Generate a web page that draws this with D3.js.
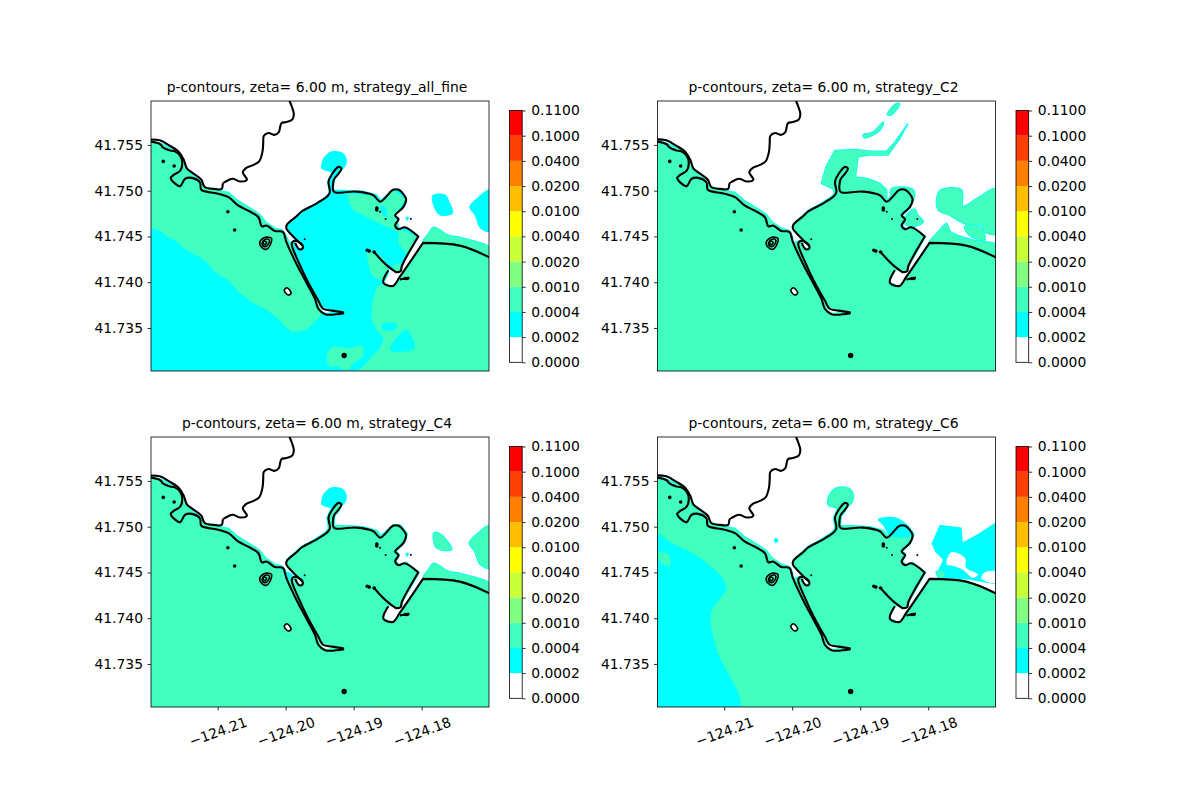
<!DOCTYPE html>
<html>
<head>
<meta charset="utf-8">
<script src="https://cdn.jsdelivr.net/npm/d3@7"></script>
<style>
  html, body { margin: 0; background: #fff; }
  text { font-family: "DejaVu Sans", sans-serif; fill: #000; }
</style>
</head>
<body>
<svg id="fig" width="1200" height="800"></svg>
<script>
// panels
var strategies = ["strategy_all_fine", "strategy_C2", "strategy_C4", "strategy_C6"];
var zeta = "6.00";

// colour bands
var levelLabels = ["0.0000", "0.0002", "0.0004", "0.0010", "0.0020", "0.0040", "0.0100", "0.0200", "0.0400", "0.1000", "0.1100"];
var levelColors = ["#ffffff", "#00ffff", "#40ffbf", "#80ff80", "#c8ff38", "#ffff00", "#ffbf00", "#ff8000", "#ff4000", "#ff0000"];

var lonDomain = [-124.2198, -124.1701];
var latDomain = [41.7303, 41.7598];
var lonTicks = [-124.21, -124.20, -124.19, -124.18];
var latTicks = [41.735, 41.740, 41.745, 41.750, 41.755];

// shoreline contours, lon/lat (a repeated point is a sharp corner)
var riverCoast = [[-124.1996,41.7601],[-124.1991,41.7592],[-124.1988,41.7584],[-124.1990,41.7578],[-124.1999,41.7575],[-124.2006,41.7574],[-124.2008,41.7570],[-124.2010,41.7564],[-124.2017,41.7561],[-124.2025,41.7563],[-124.2032,41.7560],[-124.2033,41.7552],[-124.2034,41.7543],[-124.2039,41.7532],[-124.2048,41.7528],[-124.2058,41.7525],[-124.2063,41.7520],[-124.2057,41.7512],[-124.2067,41.7510],[-124.2078,41.7513],[-124.2088,41.7510],[-124.2092,41.7508],[-124.2094,41.7502],[-124.2106,41.7502],[-124.2119,41.7504],[-124.2124,41.7512],[-124.2136,41.7519],[-124.2145,41.7524],[-124.2150,41.7534],[-124.2158,41.7543],[-124.2170,41.7549],[-124.2185,41.7555],[-124.2202,41.7556]];
var westCoast = [[-124.2202,41.7554],[-124.2185,41.7551],[-124.2180,41.7547],[-124.2170,41.7544],[-124.2163,41.7543],[-124.2155,41.7538],[-124.2152,41.7530],[-124.2155,41.7522],[-124.2165,41.7517],[-124.2169,41.7514],[-124.2163,41.7508],[-124.2155,41.7505],[-124.2148,41.7513],[-124.2138,41.7514],[-124.2126,41.7509],[-124.2124,41.7501],[-124.2101,41.7497],[-124.2084,41.7493],[-124.2070,41.7484],[-124.2052,41.7477],[-124.2040,41.7471],[-124.2035,41.7461],[-124.2028,41.7462],[-124.2016,41.7456],[-124.2004,41.7455],[-124.1999,41.7444],[-124.1984,41.7420],[-124.1969,41.7399],[-124.1957,41.7382],[-124.1952,41.7371],[-124.1942,41.7365],[-124.1914,41.7366]];
var jettyLine = [[-124.1914,41.7367],[-124.1932,41.7369],[-124.1945,41.7371],[-124.1952,41.7380],[-124.1967,41.7400],[-124.1981,41.7422],[-124.1991,41.7441],[-124.1990,41.7444],[-124.1984,41.7445],[-124.1975,41.7440],[-124.1975,41.7437],[-124.1980,41.7436],[-124.1986,41.7443]];
var bayLine = [[-124.1975,41.7440],[-124.1989,41.7450],[-124.1999,41.7459],[-124.1998,41.7463],[-124.1984,41.7472],[-124.1977,41.7477],[-124.1957,41.7485],[-124.1940,41.7493],[-124.1935,41.7498],[-124.1937,41.7510],[-124.1932,41.7518],[-124.1922,41.7526],[-124.1918,41.7524],[-124.1923,41.7518],[-124.1929,41.7512],[-124.1930,41.7500],[-124.1927,41.7498],[-124.1896,41.7499],[-124.1871,41.7495],[-124.1861,41.7488],[-124.1842,41.7501],[-124.1834,41.7501],[-124.1823,41.7491],[-124.1827,41.7482],[-124.1839,41.7473],[-124.1834,41.7469],[-124.1839,41.7462],[-124.1834,41.7458],[-124.1825,41.7460],[-124.1805,41.7450],[-124.1805,41.7450],[-124.1829,41.7418],[-124.1831,41.7412],[-124.1838,41.7411],[-124.1838,41.7411],[-124.1849,41.7417],[-124.1859,41.7424],[-124.1870,41.7433]];
var eastCoast = [[-124.1700,41.7427],[-124.1744,41.7440],[-124.1798,41.7443],[-124.1798,41.7443],[-124.1832,41.7406],[-124.1842,41.7396],[-124.1856,41.7399],[-124.1856,41.7403],[-124.1849,41.7413]];
var eastStub = [[-124.1832,41.7403],[-124.1818,41.7405]];

// closed contours
var ringOuter = [[-124.2038,41.7444],[-124.2030,41.7449],[-124.2021,41.7448],[-124.2022,41.7442],[-124.2028,41.7436],[-124.2035,41.7438]];
var ringMiddle = [[-124.2034,41.7444],[-124.2029,41.7447],[-124.2024,41.7446],[-124.2026,41.7441],[-124.2029,41.7439],[-124.2034,41.7440]];
var ringInner = [[-124.2033,41.7443],[-124.2031,41.7445],[-124.2028,41.7443],[-124.2031,41.7441]];
var ovalIsland = [[-124.2002,41.7391],[-124.1998,41.7394],[-124.1992,41.7388],[-124.1996,41.7386]];
var bigRocks = [[-124.1914,41.7320]];
var smallRocks = [[-124.2180,41.7532],[-124.2164,41.7527],[-124.2085,41.7477],[-124.2075,41.7457],[-124.1866,41.7481],[-124.1866,41.7479],[-124.1880,41.7435],[-124.1877,41.7434],[-124.1870,41.7433],[-124.1821,41.7404],[-124.1824,41.7404]];
var tinyRocks = [[-124.1972,41.7447],[-124.1861,41.7477],[-124.1853,41.7469],[-124.1816,41.7469]];

// white spots inside the contour lines
var jettyTipDry = [[-124.1950,41.7373],[-124.1942,41.7367],[-124.1931,41.7368],[-124.1940,41.7371]];
var jettyHeadDry = [[-124.1984,41.7442],[-124.1977,41.7440],[-124.1978,41.7437],[-124.1982,41.7439]];

// wet area outline
var westShore = [[-124.2202,41.7555],[-124.2185,41.7552],[-124.2170,41.7547],[-124.2160,41.7544],[-124.2153,41.7537],[-124.2147,41.7524],[-124.2136,41.7516],[-124.2124,41.7510],[-124.2120,41.7504],[-124.2097,41.7500],[-124.2084,41.7498],[-124.2070,41.7489],[-124.2052,41.7481],[-124.2038,41.7474],[-124.2030,41.7466],[-124.2016,41.7459],[-124.2006,41.7457],[-124.2001,41.7453]];
var bayShore = [[-124.1998,41.7443],[-124.1989,41.7445],[-124.1977,41.7438],[-124.1975,41.7440],[-124.1989,41.7450],[-124.1999,41.7459],[-124.1998,41.7464],[-124.1984,41.7473],[-124.1977,41.7478],[-124.1957,41.7486],[-124.1941,41.7494],[-124.1937,41.7498],[-124.1939,41.7510],[-124.1934,41.7518],[-124.1923,41.7526],[-124.1917,41.7525],[-124.1922,41.7517],[-124.1928,41.7512],[-124.1929,41.7501],[-124.1910,41.7501],[-124.1886,41.7500],[-124.1866,41.7496],[-124.1860,41.7490],[-124.1842,41.7502],[-124.1832,41.7502],[-124.1821,41.7492],[-124.1826,41.7482],[-124.1838,41.7473],[-124.1833,41.7469],[-124.1838,41.7462],[-124.1833,41.7458],[-124.1823,41.7461],[-124.1804,41.7450],[-124.1828,41.7419],[-124.1831,41.7413],[-124.1839,41.7412],[-124.1847,41.7415],[-124.1854,41.7408],[-124.1857,41.7402],[-124.1856,41.7399],[-124.1842,41.7395],[-124.1832,41.7405],[-124.1798,41.7443],[-124.1744,41.7440],[-124.1700,41.7427],[-124.1700,41.7300],[-124.2202,41.7300]];
var seaArea = westShore.concat(bayShore);
var seaNorthEast = [[-124.1798,41.7443],[-124.1789,41.7454],[-124.1783,41.7460],[-124.1773,41.7457],[-124.1763,41.7452],[-124.1739,41.7448],[-124.1700,41.7438],[-124.1700,41.7427],[-124.1744,41.7440]];
var seaNorthEastC2 = [[-124.1798,41.7443],[-124.1785,41.7455],[-124.1773,41.7464],[-124.1767,41.7455],[-124.1734,41.7446],[-124.1700,41.7441],[-124.1700,41.7427],[-124.1744,41.7440]];

// all_fine bands
var westShelfEdge = [[-124.1952,41.7379],[-124.1945,41.7366],[-124.1969,41.7348],[-124.1989,41.7345],[-124.2001,41.7351],[-124.2011,41.7360],[-124.2030,41.7371],[-124.2048,41.7377],[-124.2070,41.7390],[-124.2084,41.7402],[-124.2104,41.7411],[-124.2119,41.7424],[-124.2128,41.7428],[-124.2146,41.7435],[-124.2163,41.7446],[-124.2175,41.7450],[-124.2182,41.7455],[-124.2202,41.7461]];
var southEastShelf = [[-124.1798,41.7443],[-124.1832,41.7405],[-124.1842,41.7395],[-124.1856,41.7398],[-124.1866,41.7396],[-124.1872,41.7380],[-124.1874,41.7359],[-124.1866,41.7348],[-124.1856,41.7339],[-124.1861,41.7328],[-124.1874,41.7318],[-124.1886,41.7308],[-124.1898,41.7302],[-124.1700,41.7302],[-124.1700,41.7427],[-124.1744,41.7440]];
var breakwaterShoal = [[-124.1880,41.7432],[-124.1870,41.7433],[-124.1849,41.7417],[-124.1856,41.7402],[-124.1871,41.7406],[-124.1878,41.7420]];
var rockPatch = [[-124.1940,41.7317],[-124.1932,41.7329],[-124.1905,41.7328],[-124.1888,41.7330],[-124.1886,41.7320],[-124.1901,41.7311],[-124.1910,41.7303],[-124.1923,41.7308],[-124.1935,41.7308]];
var bayFlat = [[-124.1909,41.7497],[-124.1871,41.7495],[-124.1860,41.7488],[-124.1842,41.7501],[-124.1823,41.7491],[-124.1839,41.7473],[-124.1833,41.7458],[-124.1805,41.7450],[-124.1822,41.7431],[-124.1834,41.7442],[-124.1834,41.7455],[-124.1856,41.7462],[-124.1886,41.7473],[-124.1901,41.7479],[-124.1907,41.7488]];
var throatFlat = [[-124.1842,41.7418],[-124.1829,41.7420],[-124.1832,41.7413],[-124.1839,41.7413]];
var peninsulaPool = [[-124.1861,41.7483],[-124.1853,41.7482],[-124.1851,41.7471],[-124.1856,41.7473]];
var eastSliver = [[-124.1859,41.7354],[-124.1837,41.7355],[-124.1839,41.7348],[-124.1856,41.7348]];
var eastPool = [[-124.1847,41.7326],[-124.1837,41.7339],[-124.1822,41.7348],[-124.1810,41.7329],[-124.1817,41.7325]];

// offshore blobs north of the bay
var inletBlob = [[-124.1947,41.7524],[-124.1945,41.7535],[-124.1932,41.7543],[-124.1915,41.7541],[-124.1910,41.7532],[-124.1915,41.7524],[-124.1928,41.7519],[-124.1937,41.7521]];
var middleBlob = [[-124.1784,41.7495],[-124.1766,41.7496],[-124.1759,41.7488],[-124.1754,41.7475],[-124.1773,41.7473],[-124.1782,41.7482]];
var middleBlobC4 = [[-124.1782,41.7493],[-124.1773,41.7492],[-124.1756,41.7475],[-124.1778,41.7477]];
var edgeBlob = [[-124.1730,41.7482],[-124.1717,41.7493],[-124.1700,41.7501],[-124.1700,41.7455],[-124.1714,41.7459],[-124.1722,41.7473]];
var harborSpot = [[-124.1824,41.7471],[-124.1819,41.7471],[-124.1821,41.7467]];
var entranceWedge = [[-124.1999,41.7451],[-124.1988,41.7446],[-124.1991,41.7442],[-124.1998,41.7444]];

// C2 bands
var northBank = [[-124.1957,41.7508],[-124.1950,41.7526],[-124.1937,41.7544],[-124.1905,41.7545],[-124.1886,41.7543],[-124.1861,41.7543],[-124.1849,41.7553],[-124.1830,41.7573],[-124.1842,41.7557],[-124.1859,41.7539],[-124.1886,41.7539],[-124.1903,41.7537],[-124.1907,41.7515],[-124.1888,41.7513],[-124.1871,41.7508],[-124.1861,41.7501],[-124.1861,41.7488],[-124.1935,41.7493],[-124.1940,41.7502]];
var streakOne = [[-124.1896,41.7561],[-124.1881,41.7564],[-124.1866,41.7575],[-124.1869,41.7568],[-124.1881,41.7561],[-124.1893,41.7558]];
var streakTwo = [[-124.1860,41.7583],[-124.1847,41.7595],[-124.1842,41.7595],[-124.1854,41.7583]];
var peninsulaCap = [[-124.1854,41.7502],[-124.1822,41.7501],[-124.1822,41.7490],[-124.1852,41.7490]];
var harborBank = [[-124.1832,41.7473],[-124.1820,41.7480],[-124.1815,41.7473],[-124.1807,41.7466],[-124.1822,41.7461],[-124.1834,41.7464]];
var eastBank = [[-124.1787,41.7493],[-124.1781,41.7501],[-124.1751,41.7501],[-124.1749,41.7483],[-124.1727,41.7492],[-124.1700,41.7502],[-124.1700,41.7453],[-124.1717,41.7455],[-124.1722,41.7463],[-124.1746,41.7464],[-124.1768,41.7473],[-124.1785,41.7479]];
var eastIsle = [[-124.1746,41.7461],[-124.1724,41.7461],[-124.1717,41.7446],[-124.1739,41.7451]];

// C6 bands
var westOffshore = [[-124.2202,41.7492],[-124.2175,41.7481],[-124.2136,41.7466],[-124.2097,41.7435],[-124.2119,41.7406],[-124.2111,41.7366],[-124.2077,41.7302],[-124.2202,41.7302]];
var westIsle = [[-124.2199,41.7471],[-124.2182,41.7470],[-124.2180,41.7457],[-124.2190,41.7459]];
var northSpot = [[-124.2027,41.7485],[-124.2024,41.7488],[-124.2020,41.7485],[-124.2024,41.7482]];
var peninsulaHalo = [[-124.1874,41.7508],[-124.1847,41.7510],[-124.1825,41.7497],[-124.1825,41.7490],[-124.1856,41.7490],[-124.1866,41.7501]];
var eastHalo = [[-124.1795,41.7482],[-124.1783,41.7502],[-124.1751,41.7499],[-124.1749,41.7483],[-124.1727,41.7492],[-124.1700,41.7505],[-124.1700,41.7437],[-124.1717,41.7439],[-124.1739,41.7442],[-124.1778,41.7444],[-124.1785,41.7453],[-124.1778,41.7464],[-124.1790,41.7473]];
var dryHoleOne = [[-124.1773,41.7459],[-124.1766,41.7472],[-124.1746,41.7466],[-124.1744,41.7455],[-124.1727,41.7448],[-124.1734,41.7444],[-124.1749,41.7453],[-124.1763,41.7457]];
var dryHoleTwo = [[-124.1722,41.7444],[-124.1717,41.7450],[-124.1700,41.7451],[-124.1700,41.7439],[-124.1710,41.7439]];
var gapIsle = [[-124.1788,41.7451],[-124.1777,41.7451],[-124.1776,41.7446],[-124.1784,41.7444]];

// draw order per panel: band index into levelColors, then polygons
var panelLayers = [
  [[1, [seaArea, inletBlob, middleBlob, edgeBlob, harborSpot]],
   [2, [westShore.concat(westShelfEdge), southEastShelf, seaNorthEast, breakwaterShoal, bayFlat, throatFlat]],
   [1, [peninsulaPool, eastSliver, eastPool]],
   [2, [rockPatch]]],
  [[2, [seaArea, seaNorthEastC2, northBank, streakOne, streakTwo, peninsulaCap, harborBank, eastBank, eastIsle]]],
  [[1, [inletBlob, harborSpot, entranceWedge]],
   [2, [seaArea, seaNorthEast, middleBlobC4, edgeBlob]]],
  [[2, [seaArea, inletBlob]],
   [1, [westOffshore, northSpot, peninsulaHalo, eastHalo]],
   [0, [dryHoleOne, dryHoleTwo]],
   [2, [westIsle, gapIsle]]]
];

var axW = 338, axH = 270;
var panelX = [151, 657.5], panelY = [101, 437];
var svg = d3.select("#fig");

var xScale = d3.scaleLinear().domain(lonDomain).range([0, axW]);
var yScale = d3.scaleLinear().domain(latDomain).range([axH, 0]);
var openPath = d3.line().x(d => xScale(d[0])).y(d => yScale(d[1])).curve(d3.curveCatmullRom.alpha(0.5));
var closedPath = d3.line().x(d => xScale(d[0])).y(d => yScale(d[1])).curve(d3.curveLinearClosed);
var roundPath = d3.line().x(d => xScale(d[0])).y(d => yScale(d[1])).curve(d3.curveCatmullRomClosed.alpha(0.5));

var coastLines = [riverCoast, westCoast, jettyLine, bayLine, eastCoast, eastStub];
var closedRings = [ringOuter, ringMiddle, ringInner, ovalIsland];
var drySpots = [ovalIsland, jettyTipDry, jettyHeadDry];

strategies.forEach(function(strategy, i) {
  var col = i % 2, row = Math.floor(i / 2);
  var g = svg.append("g").attr("transform", "translate(" + panelX[col] + "," + panelY[row] + ")");
  var clipId = "clip" + i;
  g.append("clipPath").attr("id", clipId).append("rect").attr("width", axW).attr("height", axH);
  var plot = g.append("g").attr("clip-path", "url(#" + clipId + ")");

  panelLayers[i].forEach(function(layer) {
    var band = layer[0], shapes = layer[1];
    // green bands get the thin cyan rim that the contour levels leave
    if (band === 2) {
      plot.append("g").selectAll("path").data(shapes).join("path")
        .attr("d", d => d.length > 12 ? closedPath(d) : roundPath(d))
        .attr("fill", levelColors[1]).attr("stroke", levelColors[1]).attr("stroke-width", 1.6);
    }
    plot.append("g").selectAll("path").data(shapes).join("path")
      .attr("d", d => d.length > 12 ? closedPath(d) : roundPath(d))
      .attr("fill", levelColors[band]);
  });

  plot.append("g").selectAll("path").data(drySpots).join("path")
    .attr("d", roundPath).attr("fill", "#fff");

  plot.append("g").selectAll("path").data(coastLines).join("path")
    .attr("d", openPath)
    .attr("fill", "none").attr("stroke", "#000").attr("stroke-width", 2.1).attr("stroke-linejoin", "round");
  plot.append("g").selectAll("path").data(closedRings).join("path")
    .attr("d", roundPath)
    .attr("fill", "none").attr("stroke", "#000").attr("stroke-width", 1.6);

  [[bigRocks, 2.7], [smallRocks, 1.8], [tinyRocks, 1]].forEach(function(set) {
    plot.append("g").selectAll("circle").data(set[0]).join("circle")
      .attr("cx", d => xScale(d[0])).attr("cy", d => yScale(d[1])).attr("r", set[1]).attr("fill", "#000");
  });

  g.append("rect").attr("width", axW).attr("height", axH)
    .attr("fill", "none").attr("stroke", "#000").attr("stroke-width", 0.8);

  var yAxis = g.append("g").call(d3.axisLeft(yScale).tickValues(latTicks).tickFormat(d3.format(".3f")).tickSize(3.5).tickPadding(4.5));
  yAxis.select(".domain").remove();
  yAxis.selectAll("line").attr("stroke-width", 0.8);
  yAxis.selectAll("text").style("font-size", "13.89px").style("font-family", "DejaVu Sans");

  if (row === 1) {
    var xAxis = g.append("g").attr("transform", "translate(0," + axH + ")")
      .call(d3.axisBottom(xScale).tickValues(lonTicks).tickFormat(d3.format(".2f")).tickSize(3.5));
    xAxis.select(".domain").remove();
    xAxis.selectAll("line").attr("stroke-width", 0.8);
    xAxis.selectAll("text")
      .attr("y", 0).attr("dy", 0)
      .attr("dominant-baseline", "central")
      .attr("text-anchor", "middle")
      .attr("transform", "translate(0,24.5) rotate(-20)")
      .style("font-size", "13.89px").style("font-family", "DejaVu Sans");
  }

  g.append("text").attr("x", axW / 2 - 3).attr("y", -9.5)
    .attr("text-anchor", "middle").style("font-size", "13.89px")
    .text("p-contours, zeta= " + zeta + " m, " + strategy);

  // colorbar
  var barY = d3.scalePoint().domain(levelLabels).range([251.8, 0]);
  var bar = g.append("g").attr("transform", "translate(" + (axW + 20.5) + ",9.5)");
  bar.selectAll("rect").data(levelColors).join("rect")
    .attr("y", (d, k) => barY(levelLabels[k + 1]))
    .attr("width", 12.7).attr("height", barY.step())
    .attr("fill", d => d);
  bar.append("rect").attr("width", 12.7).attr("height", 251.8)
    .attr("fill", "none").attr("stroke", "#000").attr("stroke-width", 0.8);
  var barAxis = bar.append("g").attr("transform", "translate(12.7,0)")
    .call(d3.axisRight(barY).tickSize(3.5).tickPadding(5.5));
  barAxis.select(".domain").remove();
  barAxis.selectAll("line").attr("stroke-width", 0.8);
  barAxis.selectAll("text").style("font-size", "13.89px").style("font-family", "DejaVu Sans");
});
</script>
</body>
</html>
